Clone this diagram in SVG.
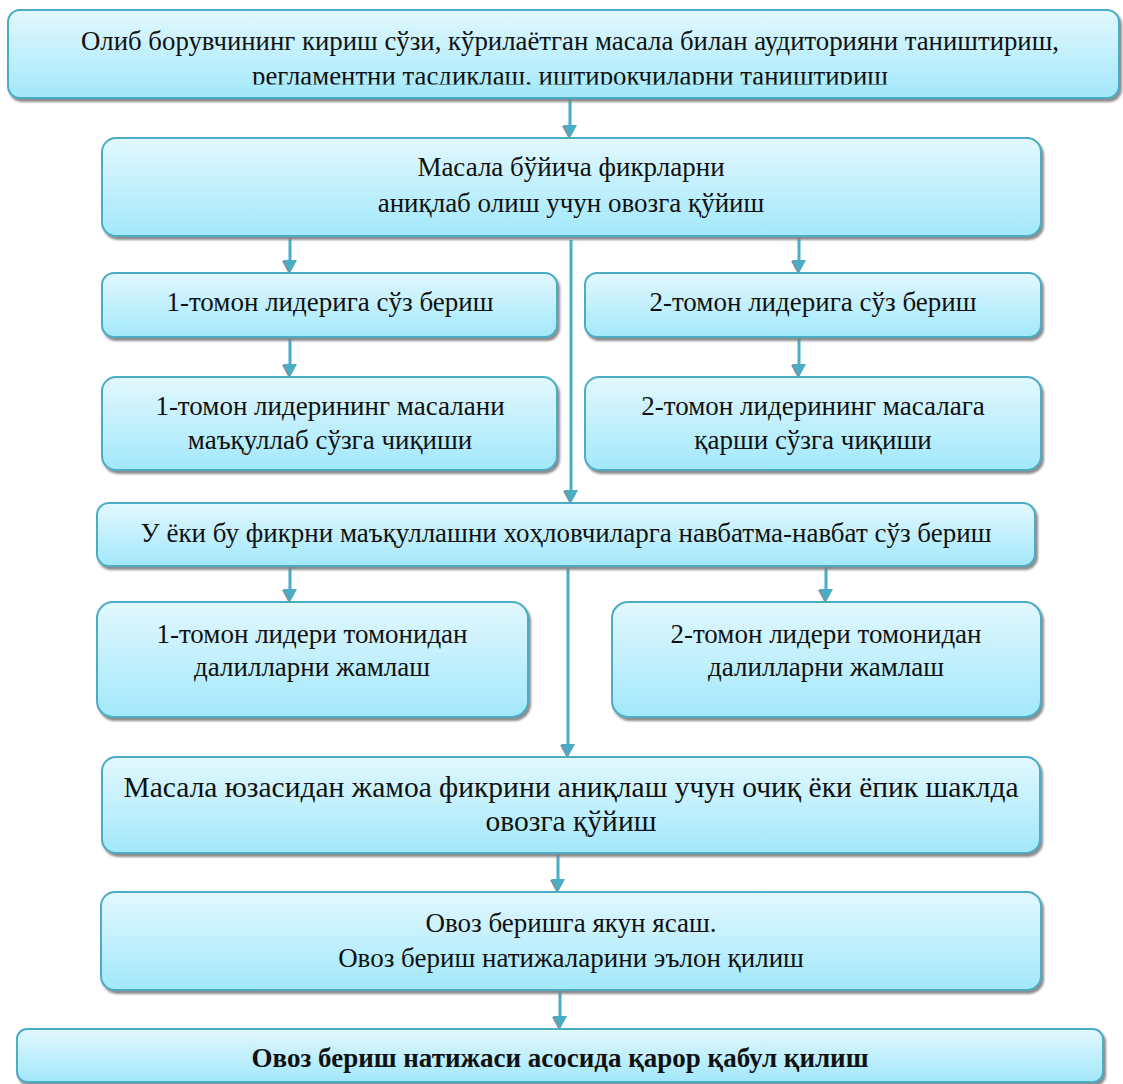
<svg xmlns="http://www.w3.org/2000/svg" width="1123" height="1084" viewBox="0 0 1123 1084">
<defs>
<linearGradient id="g" x1="0" y1="0" x2="0" y2="1">
<stop offset="0" stop-color="#E2F8FE"/>
<stop offset="1" stop-color="#A2E8FB"/>
</linearGradient>
<filter id="sh" x="-5%" y="-10%" width="110%" height="130%">
<feDropShadow dx="2" dy="3" stdDeviation="0.8" flood-color="#7F7F7F" flood-opacity="0.9"/>
</filter>
<marker id="ah" markerUnits="userSpaceOnUse" markerWidth="18" markerHeight="18" refX="1" refY="8" orient="auto" viewBox="0 0 18 18" overflow="visible">
<path d="M1,2 L14,9 L1,16 Z" fill="#8C8C8C"/>
<path d="M0,1 L13,8 L0,15 Z" fill="#4BACC6"/>
</marker>
<clipPath id="c1"><rect x="0" y="0" width="1123" height="84.5"/></clipPath>
</defs>
<style>
.box{fill:url(#g);stroke:#4BACC6;stroke-width:2;filter:url(#sh)}
.t{font-family:"Liberation Serif","Times New Roman",serif;font-size:27px;fill:#111;text-anchor:middle}
.t1{font-size:26.8px}
.tl{font-size:29.5px}
.tb{font-weight:bold}
.con{stroke:#4BACC6;stroke-width:3;fill:none}
.arr{marker-end:url(#ah)}
</style>
<g id="connectors">
<line class="con arr" x1="570" y1="99" x2="570" y2="126"/>
<line class="con arr" x1="290" y1="238" x2="290" y2="261"/>
<line class="con arr" x1="799" y1="238" x2="799" y2="261"/>
<line class="con arr" x1="290" y1="338" x2="290" y2="365"/>
<line class="con arr" x1="799" y1="338" x2="799" y2="365"/>
<line class="con arr" x1="571" y1="240" x2="571" y2="491"/>
<line class="con arr" x1="290" y1="567" x2="290" y2="590"/>
<line class="con arr" x1="826" y1="567" x2="826" y2="590"/>
<line class="con arr" x1="568" y1="562" x2="568" y2="745"/>
<line class="con arr" x1="558" y1="854" x2="558" y2="880"/>
<line class="con arr" x1="560" y1="991" x2="560" y2="1017"/>
</g>
<g id="n1">
<rect class="box" x="8" y="10" width="1111" height="88" rx="12"/>
<text class="t t1" x="570" y="50">Олиб борувчининг кириш сўзи, кўрилаётган масала билан аудиторияни таништириш,</text>
<text class="t t1" x="570" y="85" clip-path="url(#c1)">регламентни тасдиқлаш, иштирокчиларни таништириш</text>
</g>
<g id="n2">
<rect class="box" x="102" y="138" width="939" height="98" rx="14"/>
<text class="t" x="571" y="176">Масала бўйича фикрларни</text>
<text class="t" x="571" y="212">аниқлаб олиш учун овозга қўйиш</text>
</g>
<g id="n3">
<rect class="box" x="102" y="273" width="455" height="64" rx="12"/>
<text class="t" x="330" y="311">1-томон лидерига сўз бериш</text>
</g>
<g id="n4">
<rect class="box" x="585" y="273" width="456" height="64" rx="12"/>
<text class="t" x="813" y="311">2-томон лидерига сўз бериш</text>
</g>
<g id="n5">
<rect class="box" x="102" y="377" width="455" height="93" rx="14"/>
<text class="t" x="330" y="415">1-томон лидерининг масалани</text>
<text class="t" x="330" y="449">маъқуллаб сўзга чиқиши</text>
</g>
<g id="n6">
<rect class="box" x="585" y="377" width="456" height="93" rx="14"/>
<text class="t" x="813" y="415">2-томон лидерининг масалага</text>
<text class="t" x="813" y="449">қарши сўзга чиқиши</text>
</g>
<g id="n7">
<rect class="box" x="97" y="503" width="938" height="63" rx="12"/>
<text class="t" x="566" y="542">У ёки бу фикрни маъқуллашни хоҳловчиларга навбатма-навбат сўз бериш</text>
</g>
<g id="n8">
<rect class="box" x="97" y="602" width="431" height="115" rx="16"/>
<text class="t" x="312" y="643">1-томон лидери томонидан</text>
<text class="t" x="312" y="676">далилларни жамлаш</text>
</g>
<g id="n9">
<rect class="box" x="612" y="602" width="429" height="115" rx="16"/>
<text class="t" x="826" y="643">2-томон лидери томонидан</text>
<text class="t" x="826" y="676">далилларни жамлаш</text>
</g>
<g id="n10">
<rect class="box" x="102" y="757" width="938" height="96" rx="14"/>
<text class="t tl" x="571" y="797">Масала юзасидан жамоа фикрини аниқлаш учун очиқ ёки ёпик шаклда</text>
<text class="t tl" x="571" y="831">овозга қўйиш</text>
</g>
<g id="n11">
<rect class="box" x="101" y="892" width="940" height="98" rx="14"/>
<text class="t" x="571" y="932">Овоз беришга якун ясаш.</text>
<text class="t" x="571" y="967">Овоз бериш натижаларини эълон қилиш</text>
</g>
<g id="n12">
<rect class="box" x="17" y="1029" width="1086" height="53" rx="10"/>
<text class="t tb" x="560" y="1067">Овоз бериш натижаси асосида қарор қабул қилиш</text>
</g>
</svg>
